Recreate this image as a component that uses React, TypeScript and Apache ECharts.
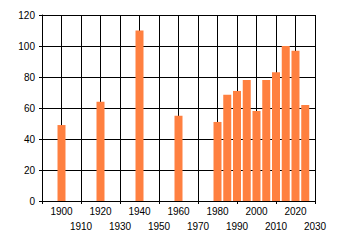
import React, { useEffect, useRef } from "react";
import * as echarts from "echarts";

const years = [1900, 1920, 1940, 1960, 1980, 1985, 1990, 1995, 2000, 2005, 2010, 2015, 2020, 2025];
const values = [49, 64, 110, 55, 51, 68.5, 71, 78, 58, 78, 83, 100, 97, 62];
const yTicks = [0, 20, 40, 60, 80, 100, 120];
const xMin = 1890;
const xMax = 2030;

export default function App() {
  const ref = useRef<HTMLDivElement>(null);
  useEffect(() => {
    if (!ref.current) return;
    const chart = echarts.init(ref.current, null, { renderer: "svg" });
    const font = "Liberation Sans";
    chart.setOption({
      animation: false,
      backgroundColor: "#ffffff",
      grid: { left: 42, top: 15, right: 25, bottom: 44, containLabel: false },
      xAxis: [
        {
          type: "value",
          min: xMin,
          max: xMax,
          interval: 10,
          axisLine: { show: true, lineStyle: { color: "#000", width: 1 } },
          axisTick: { show: false },
          splitLine: { show: true, lineStyle: { color: "#000", width: 1 } },
          axisLabel: {
            show: true,
            showMaxLabel: true,
            showMinLabel: true,
            color: "#000",
            fontFamily: font,
            fontSize: 10,
            margin: 5,
            formatter: (v: number) => (v % 20 === 0 ? String(v) : ""),
          },
        },
        {
          type: "value",
          position: "bottom",
          min: xMin,
          max: xMax,
          interval: 20,
          axisLine: { show: false },
          axisTick: { show: true, length: 3, lineStyle: { color: "#000", width: 1 } },
          splitLine: { show: false },
          axisLabel: {
            show: true,
            showMaxLabel: true,
            showMinLabel: true,
            color: "#000",
            fontFamily: font,
            fontSize: 10,
            margin: 20,
            formatter: (v: number) => (v === xMin ? "" : String(v)),
          },
        },
      ],
      yAxis: [
        {
          type: "value",
          min: 0,
          max: yTicks[yTicks.length - 1],
          interval: 20,
          axisLine: { show: true, lineStyle: { color: "#000", width: 1 } },
          axisTick: { show: true, length: 3, lineStyle: { color: "#000", width: 1 } },
          splitLine: { show: true, lineStyle: { color: "#000", width: 1 } },
          axisLabel: {
            color: "#000",
            fontFamily: font,
            fontSize: 10,
            margin: 7,
          },
        },
      ],
      series: [
        {
          type: "bar",
          xAxisIndex: 0,
          barWidth: 8,
          itemStyle: { color: "#FF8040" },
          data: years.map((y, i) => [y, values[i]]),
        },
      ],
    });
    return () => chart.dispose();
  }, []);
  return (
    <div
      ref={ref}
      style={{ position: "fixed", left: 0, top: 0, width: 340, height: 245 }}
    />
  );
}
